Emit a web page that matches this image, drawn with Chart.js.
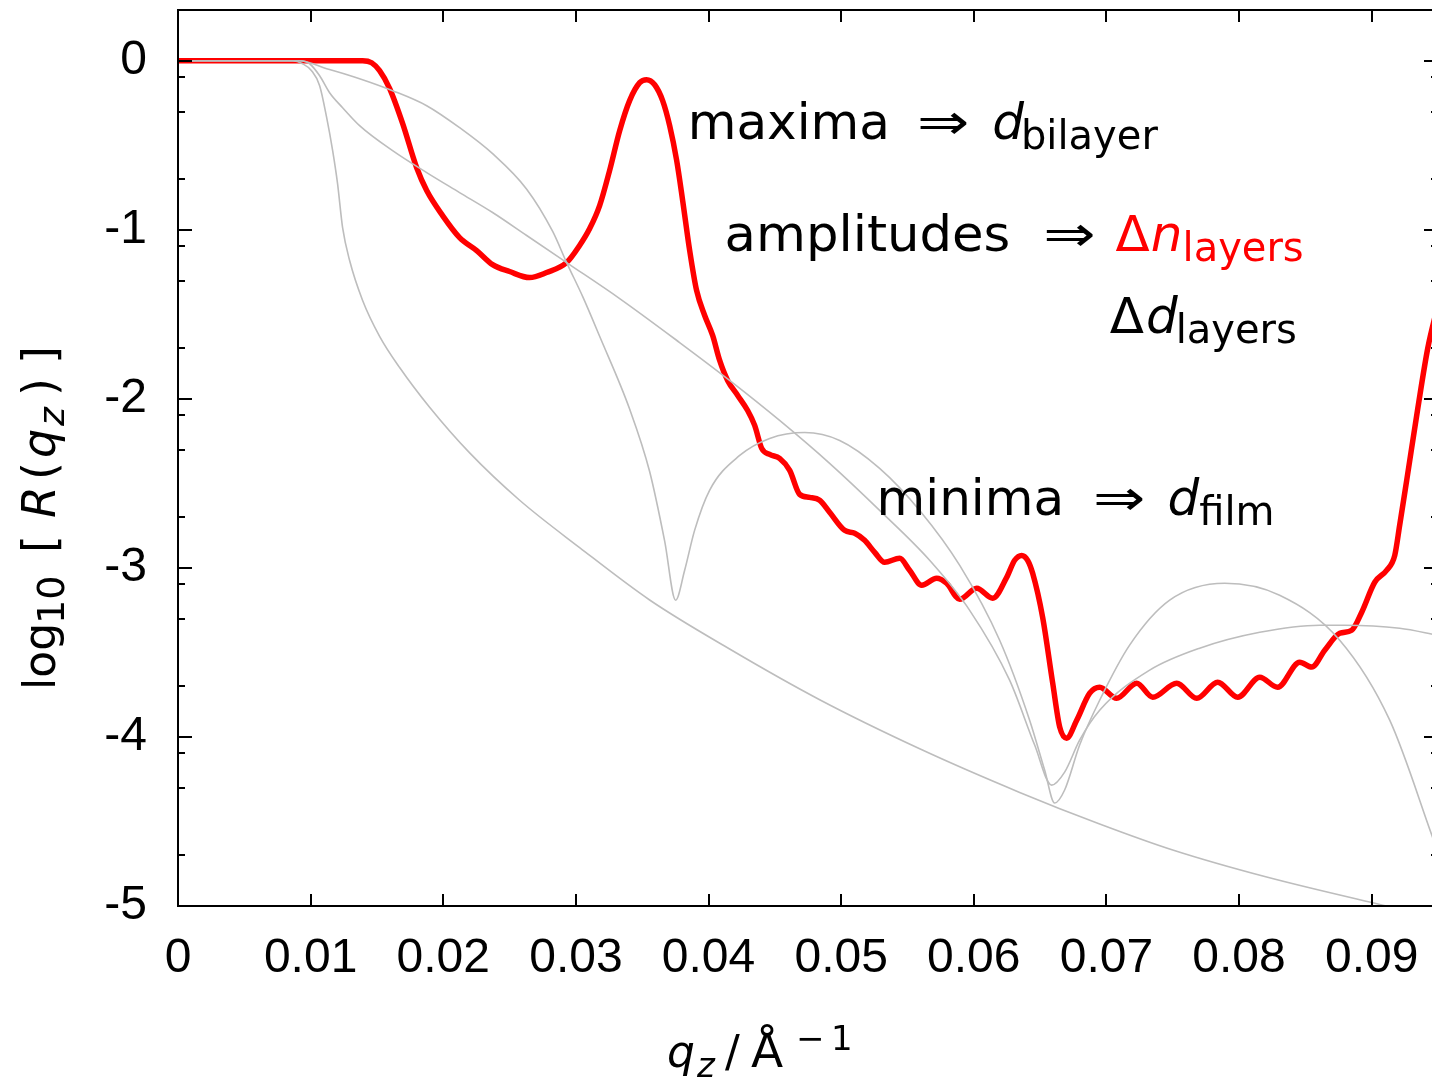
<!DOCTYPE html>
<html>
<head>
<meta charset="utf-8">
<script src="https://cdn.jsdelivr.net/npm/chart.js@4.4.0/dist/chart.umd.min.js"></script>
<style>
  html, body { margin: 0; padding: 0; background: #fff; overflow: hidden; }
  #wrap { position: relative; width: 1445px; height: 1083px; }
</style>
</head>
<body>
<div id="wrap"><canvas id="refl" width="1445" height="1083" style="width:1445px;height:1083px"></canvas></div>
<script>
// --- Ejes ---
const xTicks = [0, 0.01, 0.02, 0.03, 0.04, 0.05, 0.06, 0.07, 0.08, 0.09];
const xTickLabels = ['0', '0.01', '0.02', '0.03', '0.04', '0.05', '0.06', '0.07', '0.08', '0.09'];
const yTicks = [-5, -4, -3, -2, -1, 0];
const yTickLabels = ['-5', '-4', '-3', '-2', '-1', '0'];
const yMinorFactors = [0.2, 0.5, 0.8]; // ticks menores logaritmicos dentro de cada decada

// --- Curva roja (multicapa) ---
const redQ = [0, 0.00700, 0.01392, 0.01460, 0.01520, 0.01596, 0.01694, 0.01799, 0.01875, 0.01995, 0.02123,
  0.02252, 0.02372, 0.02500, 0.02651, 0.02779, 0.02930, 0.03028, 0.03104, 0.03179, 0.03254,
  0.03330, 0.03405, 0.03481, 0.03533, 0.03594, 0.03654, 0.03707, 0.03760, 0.03805, 0.03858,
  0.03910, 0.03971, 0.04031, 0.04084, 0.04144, 0.04220, 0.04295, 0.04348, 0.04401, 0.04461,
  0.04536, 0.04612, 0.04687, 0.04762, 0.04838, 0.04913, 0.05026, 0.05102, 0.05177, 0.05253,
  0.05328, 0.05441, 0.05516, 0.05607, 0.05720, 0.05795, 0.05894, 0.06022, 0.06143, 0.06248,
  0.06308, 0.06361, 0.06406, 0.06444, 0.06519, 0.06595, 0.06648, 0.06700, 0.06776, 0.06874,
  0.06949, 0.07077, 0.07228, 0.07349, 0.07530, 0.07681, 0.07839, 0.07990, 0.08156, 0.08291,
  0.08457, 0.08548, 0.08646, 0.08759, 0.08849, 0.08925, 0.09023, 0.09113, 0.09174, 0.09211,
  0.09264, 0.09347, 0.09423, 0.09498];
const redLogR = [0, 0, 0, -0.012, -0.059, -0.165, -0.372, -0.632, -0.768, -0.916, -1.046,
  -1.123, -1.206, -1.247, -1.283, -1.253, -1.194, -1.093, -0.993, -0.857, -0.650,
  -0.414, -0.236, -0.130, -0.112, -0.142, -0.236, -0.384, -0.591, -0.827, -1.123,
  -1.359, -1.507, -1.625, -1.773, -1.891, -1.980, -2.069, -2.157, -2.293, -2.329,
  -2.352, -2.423, -2.565, -2.583, -2.600, -2.671, -2.778, -2.795, -2.837, -2.908,
  -2.967, -2.943, -3.014, -3.103, -3.061, -3.091, -3.186, -3.121, -3.180, -3.056,
  -2.955, -2.926, -2.955, -3.032, -3.292, -3.682, -3.942, -4.007, -3.901, -3.741,
  -3.706, -3.771, -3.682, -3.765, -3.682, -3.771, -3.676, -3.765, -3.647, -3.706,
  -3.558, -3.587, -3.487, -3.387, -3.369, -3.262, -3.085, -3.014, -2.926, -2.748,
  -2.482, -2.060, -1.700, -1.450];

// --- Curvas grises (referencias) ---
const fresnelQ = [0, 0.00500, 0.00864, 0.00940, 0.01007, 0.01068, 0.01121, 0.01166, 0.01203, 0.01241, 0.01294,
  0.01392, 0.01520, 0.01671, 0.01897, 0.02199, 0.02576, 0.03028, 0.03556, 0.04159, 0.04838,
  0.05592, 0.06346, 0.06949, 0.07500, 0.08208, 0.09083, 0.09498];
const fresnelLogR = [0, 0, 0, -0.018, -0.059, -0.148, -0.337, -0.532, -0.727, -0.987, -1.182,
  -1.418, -1.630, -1.815, -2.050, -2.320, -2.600, -2.880, -3.190, -3.480, -3.780,
  -4.070, -4.328, -4.515, -4.669, -4.829, -4.995, -5.070];

const thinQ = [0, 0.00500, 0.00917, 0.00992, 0.01068, 0.01143, 0.01241, 0.01369, 0.01618, 0.01875, 0.02123,
  0.02372, 0.02629, 0.02930, 0.03330, 0.03782, 0.04159, 0.04536, 0.04913, 0.05290, 0.05667,
  0.05969, 0.06270, 0.06459, 0.06587, 0.06685, 0.06798, 0.06949, 0.07326, 0.07703, 0.08156,
  0.08608, 0.08797, 0.09211, 0.09498];
const thinLogR = [0, 0, 0, -0.018, -0.089, -0.189, -0.278, -0.384, -0.532, -0.662, -0.780,
  -0.898, -1.034, -1.194, -1.407, -1.667, -1.891, -2.128, -2.382, -2.660, -2.955,
  -3.251, -3.664, -4.048, -4.285, -4.208, -4.019, -3.842, -3.605, -3.475, -3.381,
  -3.339, -3.339, -3.357, -3.398];

const thickQ = [0, 0.00500, 0.00917, 0.01121, 0.01369, 0.01618, 0.01875, 0.02123, 0.02372, 0.02629, 0.02825,
  0.02930, 0.03054, 0.03179, 0.03405, 0.03556, 0.03669, 0.03752, 0.03820, 0.03895, 0.04008, 0.04235,
  0.04461, 0.04725, 0.04989, 0.05290, 0.05592, 0.05894, 0.06195, 0.06421, 0.06534, 0.06610,
  0.06685, 0.06798, 0.06949, 0.07175, 0.07477, 0.07892, 0.08306, 0.08759, 0.09136, 0.09453,
  0.09498];
const thickLogR = [0, 0, 0, -0.047, -0.106, -0.177, -0.266, -0.396, -0.550, -0.760, -1.010,
  -1.194, -1.400, -1.630, -2.060, -2.430, -2.840, -3.191, -3.014, -2.778, -2.541, -2.335,
  -2.234, -2.199, -2.246, -2.411, -2.660, -2.985, -3.428, -3.901, -4.196, -4.391,
  -4.314, -4.048, -3.783, -3.457, -3.191, -3.091, -3.162, -3.428, -3.901, -4.580,
  -4.681];

// --- Helpers ---
const pts = (qs, rs) => qs.map((q, i) => ({ x: q, y: rs[i] }));
const FAM = '"DejaVu Sans", sans-serif';
const TICK_FONT = '"Liberation Sans", Arial, sans-serif';

// dibuja trozos de texto seguidos; gap = espacio extra tras el trozo, sx = estirado horizontal
function drawRuns(ctx, x, y, runs) {
  let cx = x;
  runs.forEach(r => {
    ctx.font = r.f;
    ctx.fillStyle = r.c || '#000';
    const w = ctx.measureText(r.t).width * (r.sx || 1);
    if (r.sx) {
      ctx.save();
      ctx.translate(cx, y + (r.dy || 0));
      ctx.scale(r.sx, 1);
      ctx.fillText(r.t, 0, 0);
      ctx.restore();
    } else {
      ctx.fillText(r.t, cx, y + (r.dy || 0));
    }
    cx += w + (r.gap || 0);
  });
}
// trozos colocados a distancias fijas del origen (para titulos de ejes)
function drawRunsAt(ctx, x, y, runs) {
  runs.forEach(r => {
    ctx.font = r.f;
    ctx.fillStyle = r.c || '#000';
    ctx.fillText(r.t, x + r.at, y + (r.dy || 0));
  });
}

const N = '50px ' + FAM, I = 'oblique 50px ' + FAM, S = '40px ' + FAM;
const ARROW = { t: '\u21D2', f: N, sx: 1.25 };

// anotaciones, ancladas en coordenadas de datos (q, log R)
const notes = [
  { q: 0.03843, r: -0.461, runs: [
    { t: 'maxima', f: N, gap: 27 }, Object.assign({ gap: 23 }, ARROW),
    { t: 'd', f: I, gap: -3 }, { t: 'bilayer', f: S, dy: 10 }] },
  { q: 0.04121, r: -1.123, runs: [
    { t: 'amplitudes', f: N, gap: 33, sx: 1.025 }, Object.assign({ gap: 20 }, ARROW),
    { t: '\u0394', f: N, c: '#ff0000', gap: 1 },
    { t: 'n', f: I, c: '#ff0000', gap: 0 }, { t: 'layers', f: S, dy: 10, c: '#ff0000' }] },
  { q: 0.07025, r: -1.613, runs: [
    { t: '\u0394', f: N, gap: 2 }, { t: 'd', f: I, gap: -2 }, { t: 'layers', f: S, dy: 10 }] },
  { q: 0.05267, r: -2.689, runs: [
    { t: 'minima', f: N, gap: 29 }, Object.assign({ gap: 22 }, ARROW),
    { t: 'd', f: I, gap: 0 }, { t: 'film', f: S, dy: 10 }] }
];

// --- Plugin: marco con ticks hacia dentro, textos ---
const frameTicks = {
  id: 'frameTicks',
  afterDatasetsDraw(chart) {
    const { ctx, chartArea: a, scales: { x, y } } = chart;
    ctx.save();
    ctx.strokeStyle = '#000';
    ctx.lineWidth = 2;
    ctx.beginPath();
    xTicks.forEach(v => {
      const px = Math.round(x.getPixelForValue(v));
      ctx.moveTo(px, a.bottom); ctx.lineTo(px, a.bottom - 12);
      ctx.moveTo(px, a.top); ctx.lineTo(px, a.top + 12);
    });
    yTicks.forEach(v => {
      const py = Math.round(y.getPixelForValue(v));
      ctx.moveTo(a.left, py); ctx.lineTo(a.left + 14, py);
      ctx.moveTo(a.right, py); ctx.lineTo(a.right - 14, py);
    });
    yTicks.forEach(v => {
      yMinorFactors.forEach(f => {
        const val = v + Math.log10(f);
        if (val < y.min || val > y.max) return;
        const py = Math.round(y.getPixelForValue(val));
        ctx.moveTo(a.left, py); ctx.lineTo(a.left + 7, py);
        ctx.moveTo(a.right, py); ctx.lineTo(a.right - 7, py);
      });
    });
    ctx.stroke();
    ctx.strokeRect(a.left, a.top, a.right - a.left, a.bottom - a.top);
    ctx.restore();
  },
  afterDraw(chart) {
    const { ctx, scales: { x, y } } = chart;
    ctx.save();
    ctx.textBaseline = 'alphabetic';
    ctx.textAlign = 'left';
    notes.forEach(n => drawRuns(ctx, x.getPixelForValue(n.q), y.getPixelForValue(n.r), n.runs));

    // titulo eje x
    const T = '44px ' + FAM, TI = 'oblique 44px ' + FAM, TS = 'oblique 34px ' + FAM, TU = '34px ' + FAM;
    drawRunsAt(ctx, 667, 1067, [
      { t: 'q', f: TI, at: 0 }, { t: 'z', f: TS, dy: 10, at: 30 }, { t: '/', f: T, at: 58 },
      { t: '\u00C5', f: '47px ' + FAM, at: 84 }, { t: '\u2212', f: TU, dy: -17, at: 129 },
      { t: '1', f: TU, dy: -17, at: 164 }]);

    // titulo eje y (rotado, de abajo hacia arriba)
    ctx.translate(55, 690);
    ctx.rotate(-Math.PI / 2);
    const Y = '46px ' + FAM, YI = 'oblique 46px ' + FAM;
    drawRunsAt(ctx, 0, 0, [
      { t: 'log', f: '44px ' + FAM, at: 0 }, { t: '10', f: '38px ' + FAM, dy: 9, at: 66 },
      { t: '[', f: Y, at: 137 }, { t: 'R', f: YI, at: 172 }, { t: '(', f: Y, at: 210 },
      { t: 'q', f: YI, at: 232 }, { t: 'z', f: 'oblique 36px ' + FAM, dy: 9, at: 264 },
      { t: ')', f: Y, at: 294 }, { t: ']', f: Y, at: 326 }]);
    ctx.restore();
  }
};

new Chart(document.getElementById('refl'), {
  type: 'scatter',
  data: {
    datasets: [
      { label: 'Fresnel', data: pts(fresnelQ, fresnelLogR), borderColor: '#bdbdbd', borderWidth: 1.6 },
      { label: 'fino', data: pts(thinQ, thinLogR), borderColor: '#bdbdbd', borderWidth: 1.6 },
      { label: 'grueso', data: pts(thickQ, thickLogR), borderColor: '#bdbdbd', borderWidth: 1.6 },
      { label: 'multicapa', data: pts(redQ, redLogR), borderColor: '#ff0000', borderWidth: 5.5 }
    ].map(d => Object.assign(d, { showLine: true, pointRadius: 0, cubicInterpolationMode: 'monotone' }))
  },
  options: {
    responsive: false,
    animation: false,
    layout: { padding: { top: 10, right: 7, left: 0, bottom: 0 } },
    plugins: { legend: { display: false }, tooltip: { enabled: false } },
    scales: {
      x: {
        type: 'linear', min: 0, max: 0.095,
        grid: { display: false, drawTicks: false },
        border: { display: false },
        afterBuildTicks: s => { s.ticks = xTicks.map(v => ({ value: v })); },
        ticks: {
          callback: (v, i) => xTickLabels[i],
          font: { family: TICK_FONT, size: 48 }, color: '#000',
          padding: 24, maxRotation: 0, autoSkip: false
        },
        afterFit: s => { s.height = 177; s.paddingLeft = 0; s.paddingRight = 0; }
      },
      y: {
        type: 'linear', min: -5, max: 0.3,
        grid: { display: false, drawTicks: false },
        border: { display: false },
        afterBuildTicks: s => { s.ticks = yTicks.map(v => ({ value: v })); },
        ticks: {
          callback: (v, i) => yTickLabels[i],
          font: { family: TICK_FONT, size: 48 }, color: '#000',
          padding: 31, autoSkip: false
        },
        afterFit: s => { s.width = 178; s.paddingTop = 0; s.paddingBottom = 0; }
      }
    }
  },
  plugins: [frameTicks]
});
</script>
</body>
</html>
